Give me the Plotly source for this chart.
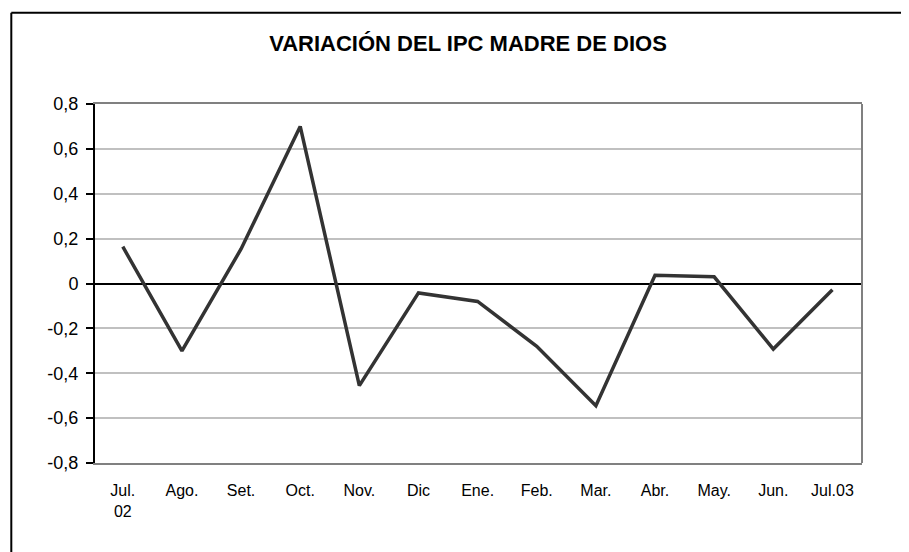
import plotly.graph_objects as go

categories = ["Jul.<br>02", "Ago.", "Set.", "Oct.", "Nov.", "Dic", "Ene.", "Feb.",
              "Mar.", "Abr.", "May.", "Jun.", "Jul.03"]
ipc_var = [0.164, -0.30, 0.154, 0.70, -0.455, -0.042, -0.08, -0.28,
           -0.545, 0.037, 0.03, -0.292, -0.028]
y_tickvals = [0.8, 0.6, 0.4, 0.2, 0, -0.2, -0.4, -0.6, -0.8]
y_ticktext = ["0,8", "0,6", "0,4", "0,2", "0", "-0,2", "-0,4", "-0,6", "-0,8"]
title_text = "VARIACIÓN DEL IPC MADRE DE DIOS"

# page has an 8px body margin, so figure coords = screen coords - 8
OFF = 8
W, H = 909, 552
ML, MT = 95 - OFF, 104 - OFF
MR = W - (862 - OFF)
MB = H - (463 - OFF)
PW, PH = W - ML - MR, H - MT - MB

def px_x(px):
    return (px - OFF - ML) / PW

def px_y(py):
    return (H - MB - (py - OFF)) / PH

FONT = "Liberation Sans, Arial, sans-serif"

fig = go.Figure()
fig.add_trace(go.Scatter(
    x=categories, y=ipc_var, mode="lines",
    line=dict(color="#333333", width=3.5),
    hoverinfo="skip", showlegend=False,
))

fig.update_layout(
    width=W, height=H,
    margin=dict(l=ML, r=MR, t=MT, b=MB),
    paper_bgcolor="white", plot_bgcolor="white",
    title=dict(text="<b>" + title_text + "</b>", x=(468 - OFF) / W, xanchor="center",
               y=1 - (43 - OFF) / H, yanchor="middle", yref="container", xref="container",
               font=dict(family=FONT, size=22, color="black")),
    xaxis=dict(
        type="category", range=[-0.47, 12.5],
        tickmode="array", tickvals=categories, ticktext=categories,
        showgrid=False, showline=True, linecolor="#808080", linewidth=2, mirror=True,
        ticks="", ticklabelstandoff=12,
        tickfont=dict(family=FONT, size=16, color="black"),
        zeroline=False,
    ),
    yaxis=dict(
        range=[-0.8, 0.8], tickmode="array", tickvals=y_tickvals, ticktext=y_ticktext,
        showgrid=True, gridcolor="#C0C0C0", gridwidth=1.5,
        showline=True, linecolor="black", linewidth=2,
        ticks="outside", ticklen=7, tickwidth=1.5, tickcolor="black",
        ticklabelstandoff=4,
        tickfont=dict(family=FONT, size=18, color="black"),
        zeroline=True, zerolinecolor="black", zerolinewidth=1.5,
    ),
    shapes=[
        dict(type="line", xref="paper", yref="paper", x0=1, x1=1, y0=0, y1=1,
             line=dict(color="#808080", width=2)),
        dict(type="line", xref="paper", yref="paper",
             x0=px_x(11.3), x1=px_x(11.3), y0=px_y(12.7), y1=px_y(570),
             line=dict(color="black", width=2)),
        dict(type="line", xref="paper", yref="paper",
             x0=px_x(11.3), x1=px_x(930), y0=px_y(12.7), y1=px_y(12.7),
             line=dict(color="black", width=2)),
    ],
)

fig.write_html("out.html")
